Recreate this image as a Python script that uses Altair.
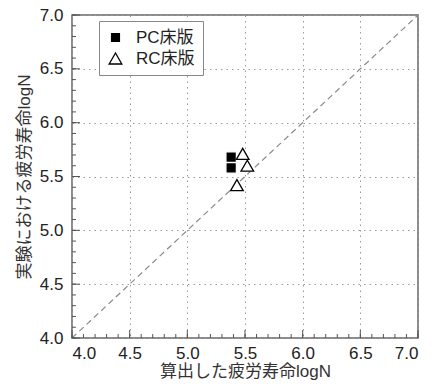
import altair as alt
import pandas as pd

# ---- data ----
pc_x = [5.38, 5.38]
pc_y = [5.68, 5.58]
rc_x = [5.48, 5.52, 5.43]
rc_y = [5.71, 5.60, 5.42]
series = ["PC床版", "RC床版"]
diag = [4.0, 7.0]
major_ticks = [4.0, 4.5, 5.0, 5.5, 6.0, 6.5, 7.0]
minor_ticks = [round(4.0 + 0.1 * i, 1) for i in range(31)]

x_title = "算出した疲労寿命logN"
y_title = "実験における疲労寿命logN"

W, H = 346, 323
LO, HI = 4.0, 7.0
FONT = "Liberation Sans, Arial, Helvetica, Noto Sans CJK JP, sans-serif"

pts = pd.DataFrame(
    {
        "x": pc_x + rc_x,
        "y": pc_y + rc_y,
        "type": [series[0]] * len(pc_x) + [series[1]] * len(rc_x),
    }
)
line_df = pd.DataFrame({"x": diag, "y": diag})
minor_df = pd.DataFrame({"t": minor_ticks})
major_df = pd.DataFrame({"t": major_ticks})

xs = alt.Scale(domain=[LO, HI], nice=False, zero=False)
ys = alt.Scale(domain=[LO, HI], nice=False, zero=False)

leg = alt.Legend(title=None, orient="none", legendX=27, legendY=6)

# diagonal line + main axes
line = alt.Chart(line_df).mark_line(
    color="#8a8a8a", strokeDash=[6, 4], strokeWidth=1.2
).encode(
    x=alt.X("x:Q", scale=xs, axis=alt.Axis(
        values=major_ticks, format=".1f", ticks=False, domain=False,
        grid=True, gridDash=[1.5, 4], gridColor="#9a9a9a", gridWidth=1,
        labelFontSize=17, labelFont=FONT, labelColor="#222", labelPadding=7,
        title=x_title, titleFontSize=17, titleFont=FONT, titleColor="#333",
        titleFontWeight="normal", titleY=38, titleBaseline="alphabetic",
    )),
    y=alt.Y("y:Q", scale=ys, axis=alt.Axis(
        values=major_ticks, format=".1f", ticks=False, domain=False,
        grid=True, gridDash=[1.5, 4], gridColor="#9a9a9a", gridWidth=1,
        labelFontSize=17, labelFont=FONT, labelColor="#222", labelPadding=9,
        title=y_title, titleFontSize=17, titleFont=FONT, titleColor="#333",
        titleFontWeight="normal", titleX=-48, titleBaseline="middle",
    )),
)

# inward ticks on bottom and left edges (tick length given in axis units)
def ticks(df, px):
    ly = px * (HI - LO) / H
    lx = px * (HI - LO) / W
    bx = alt.Chart(df).mark_rule(color="#555", strokeWidth=1).encode(
        x=alt.X("t:Q", scale=xs),
        y=alt.Y(datum=LO, type="quantitative", scale=ys),
        y2=alt.Y2(datum=LO + ly),
    )
    lft = alt.Chart(df).mark_rule(color="#555", strokeWidth=1).encode(
        y=alt.Y("t:Q", scale=ys),
        x=alt.X(datum=LO, type="quantitative", scale=xs),
        x2=alt.X2(datum=LO + lx),
    )
    return [bx, lft]

tick_layers = ticks(minor_df, 4) + ticks(major_df, 8)

# data points
points = alt.Chart(pts).mark_point(
    strokeWidth=1.3, opacity=1
).encode(
    x=alt.X("x:Q", scale=xs),
    y=alt.Y("y:Q", scale=ys),
    shape=alt.Shape("type:N", scale=alt.Scale(domain=series, range=["square", "triangle-up"]),
                    legend=leg),
    fill=alt.Fill("type:N", scale=alt.Scale(domain=series, range=["black", "white"]),
                  legend=leg),
    stroke=alt.Stroke("type:N", scale=alt.Scale(domain=series, range=["white", "black"]),
                      legend=leg),
    size=alt.Size("type:N", scale=alt.Scale(domain=series, range=[110, 160]),
                  legend=leg),
)

chart = alt.layer(line, *tick_layers, points).properties(
    width=W, height=H,
    autosize=alt.AutoSizeParams(type="none"),
    padding={"left": 64, "top": 7, "right": 8, "bottom": 48},
).configure_view(
    stroke="#666", strokeWidth=1.5
).configure_legend(
    strokeColor="#888", fillColor="white", padding=8,
    labelFontSize=17, labelFont=FONT, labelColor="#222", labelOffset=12,
    symbolStrokeWidth=1.3, rowPadding=3,
)

chart.save("out.html", embed_options={"renderer": "svg", "actions": False})
